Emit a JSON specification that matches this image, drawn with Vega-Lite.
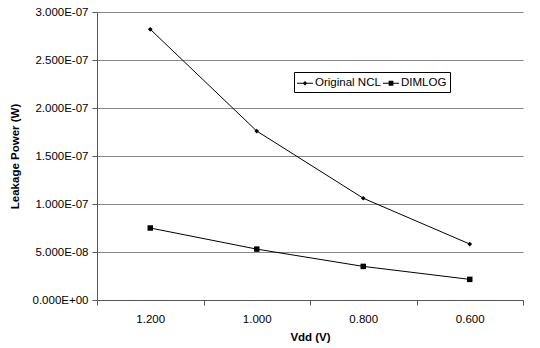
{
  "$schema": "https://vega.github.io/schema/vega-lite/v6.json",
  "width": 426,
  "height": 288,
  "autosize": {"type": "none"},
  "padding": {"left": 97, "top": 12, "right": 17, "bottom": 48},
  "background": "white",
  "config": {
    "font": "Liberation Sans",
    "view": {"stroke": null}
  },
  "data": {
    "values": [
      {"vdd": "1.200", "series": "Original NCL", "power": 2.82e-7},
      {"vdd": "1.000", "series": "Original NCL", "power": 1.76e-7},
      {"vdd": "0.800", "series": "Original NCL", "power": 1.06e-7},
      {"vdd": "0.600", "series": "Original NCL", "power": 5.83e-8},
      {"vdd": "1.200", "series": "DIMLOG", "power": 7.5e-8},
      {"vdd": "1.000", "series": "DIMLOG", "power": 5.3e-8},
      {"vdd": "0.800", "series": "DIMLOG", "power": 3.5e-8},
      {"vdd": "0.600", "series": "DIMLOG", "power": 2.15e-8}
    ]
  },
  "encoding": {
    "x": {
      "field": "vdd",
      "type": "ordinal",
      "sort": ["1.200", "1.000", "0.800", "0.600"],
      "bandPosition": 0.5,
      "scale": {"type": "band", "paddingInner": 0, "paddingOuter": 0},
      "title": "Vdd (V)",
      "axis": {
        "tickBand": "extent",
        "labelAngle": 0,
        "labelFontSize": 11.5,
        "labelColor": "black",
        "labelPadding": 8,
        "tickSize": 5,
        "tickColor": "#555",
        "domainColor": "#555",
        "titleFontSize": 11.5,
        "titleFontWeight": "bold",
        "titleColor": "black",
        "titlePadding": 7,
        "grid": false
      }
    },
    "y": {
      "field": "power",
      "type": "quantitative",
      "scale": {"domain": [0, 3e-7], "nice": false},
      "title": "Leakage Power (W)",
      "axis": {
        "values": [0, 5e-8, 1e-7, 1.5e-7, 2e-7, 2.5e-7, 3e-7],
        "labelExpr": "datum.value == 0 ? '0.000E+00' : (datum.value < 9.9e-8 ? format(datum.value*1e8, '.3f') + 'E-08' : format(datum.value*1e7, '.3f') + 'E-07')",
        "labelFontSize": 11.5,
        "labelColor": "black",
        "labelPadding": 4,
        "tickSize": 5,
        "tickColor": "#555",
        "domainColor": "#555",
        "grid": true,
        "gridColor": "#888",
        "gridOpacity": 1,
        "titleFontSize": 11.5,
        "titleFontWeight": "bold",
        "titleColor": "black",
        "titlePadding": 12
      }
    }
  },
  "layer": [
    {
      "mark": {"type": "line", "color": "black", "strokeWidth": 1},
      "encoding": {"detail": {"field": "series"}}
    },
    {
      "mark": {"type": "point", "filled": true, "color": "black", "opacity": 1},
      "encoding": {
        "shape": {
          "field": "series",
          "type": "nominal",
          "scale": {"domain": ["Original NCL", "DIMLOG"], "range": ["diamond", "square"]},
          "legend": null
        },
        "size": {
          "field": "series",
          "type": "nominal",
          "scale": {"domain": ["Original NCL", "DIMLOG"], "range": [22, 30]},
          "legend": null
        }
      }
    },
    {
      "mark": {"type": "point", "filled": true, "color": "black", "opacity": 0},
      "encoding": {
        "shape": {
          "field": "series",
          "type": "nominal",
          "scale": {
            "domain": ["Original NCL", "DIMLOG"],
            "range": [
              "M-1,-0.06H1V0.06H-1Z M0,-0.28L0.28,0L0,0.28L-0.28,0Z",
              "M-1,-0.06H1V0.06H-1Z M-0.3,-0.3H0.3V0.3H-0.3Z"
            ]
          },
          "legend": {
            "title": null,
            "orient": "none",
            "legendX": 197,
            "legendY": 60,
            "direction": "horizontal",
            "padding": 3,
            "strokeColor": "black",
            "fillColor": "white",
            "symbolSize": 256,
            "symbolOpacity": 1,
            "symbolFillColor": "black",
            "symbolStrokeWidth": 0,
            "labelFontSize": 11.5,
            "labelColor": "black",
            "labelOffset": 2,
            "columnPadding": 2,
            "encode": {
              "symbols": {
                "update": {
                  "fill": {"value": "black"},
                  "opacity": {"value": 1}
                }
              }
            }
          }
        }
      }
    }
  ],
  "resolve": {"scale": {"shape": "independent", "size": "independent"}, "legend": {"shape": "independent"}}
}
